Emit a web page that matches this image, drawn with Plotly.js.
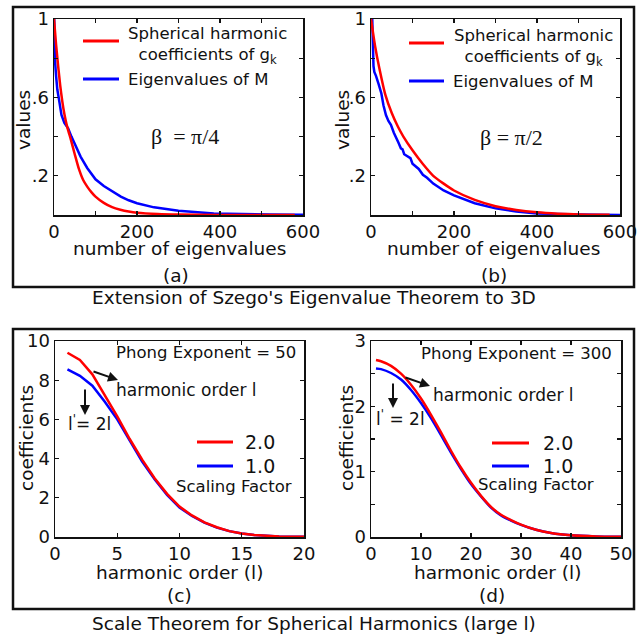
<!DOCTYPE html>
<html>
<head>
<meta charset="utf-8">
<script src="https://cdn.plot.ly/plotly-3.0.1.min.js"></script>
<style>
html,body{margin:0;padding:0;background:#fff;}
#chart{width:644px;height:637px;}
</style>
</head>
<body>
<div id="chart"></div>
<script>
// ---------- data ----------
// (a) beta = pi/4
const aRedX  = [0,5,10,15,20,25,30,35,40,50,60,70,80,90,100,120,140,160,180,200,250,300,400,500,580];
const aRedY  = [1.0,0.87,0.76,0.66,0.58,0.515,0.465,0.425,0.39,0.31,0.235,0.18,0.145,0.117,0.094,0.062,0.04,0.027,0.018,0.012,0.005,0.002,0.0005,0.0002,0.0001];
const aBlueX = [0.5,1.5,3,5,8,12,18,25,34,42,50,64,80,92,100,120,140,161,180,200,241,300,385,450,520,600];
const aBlueY = [1.0,0.85,0.77,0.71,0.64,0.59,0.51,0.47,0.442,0.40,0.36,0.298,0.24,0.205,0.182,0.148,0.12,0.094,0.075,0.06,0.039,0.022,0.008,0.004,0.002,0.001];
// (b) beta = pi/2
const bRedX  = [0,10,20,35,50,65,78,100,125,150,175,200,250,300,350,400,450,500,575];
const bRedY  = [1.0,0.86,0.75,0.61,0.52,0.45,0.40,0.33,0.26,0.20,0.16,0.125,0.077,0.045,0.026,0.014,0.007,0.003,0.001];
const bBlueX = [3,4,6,8,12,18,25,30,36,42,48,55,60,66,72,76,80,90,95,100,110,115,125,135,150,175,200,250,300,350,400,500,600];
const bBlueY = [1.0,0.86,0.76,0.73,0.71,0.67,0.62,0.56,0.51,0.48,0.46,0.42,0.40,0.37,0.34,0.335,0.31,0.295,0.29,0.262,0.245,0.235,0.205,0.19,0.16,0.125,0.1,0.06,0.034,0.018,0.008,0.002,0.0005];
// (c) Phong exponent 50
const cL     = [1,2,3,4,5,6,7,8,9,10,11,12,13,14,15,16,17,18,19,20];
const cRed   = [9.4,9.03,8.3,7.25,6.15,5.0,3.95,3.0,2.2,1.55,1.1,0.75,0.5,0.3,0.18,0.1,0.05,0.03,0.015,0.008];
const cBlue  = [8.55,8.22,7.72,6.9,6.0,4.9,3.85,2.95,2.15,1.5,1.07,0.73,0.48,0.3,0.18,0.1,0.05,0.03,0.015,0.008];
// (d) Phong exponent 300
const dL     = [1,2,4,6,8,10,12,14,16,18,20,22,24,26,28,30,33,36,40,45,50];
const dRed   = [2.71,2.69,2.62,2.50,2.33,2.12,1.87,1.60,1.32,1.06,0.83,0.63,0.46,0.34,0.26,0.19,0.11,0.06,0.025,0.008,0.003];
const dBlue  = [2.58,2.57,2.51,2.41,2.25,2.05,1.82,1.56,1.29,1.04,0.81,0.62,0.45,0.33,0.25,0.185,0.11,0.06,0.025,0.008,0.003];

const topYTicks = [0.2,0.6,1];
const topYText  = ['.2','.6','1'];
const topXTicks = [0,200,400,600];

// ---------- layout helpers ----------
const W=644, H=637;
const FONT='DejaVu Sans, Verdana, sans-serif';
const SERIF='Liberation Serif, Times New Roman, serif';
const INK='#111';
const RED='#ff0000', BLUE='#0000ff';
const fx = px => px/W;
const fy = py => 1 - py/H;

function axis(dom, range, extra){
  return Object.assign({
    domain:[fx(dom[0]), fx(dom[1])], range:range, showline:true, linecolor:INK, linewidth:1.5,
    mirror:'ticks', ticks:'inside', ticklen:4, tickwidth:1.2, tickcolor:INK,
    showgrid:false, zeroline:false, fixedrange:true, automargin:false,
    tickfont:{family:FONT,size:18,color:INK}
  }, extra||{});
}
function yaxis(dom, range, extra){
  const a = axis([0,0], range, extra);
  a.domain = [fy(dom[1]), fy(dom[0])];
  return a;
}
function txt(text, px, py, size, o){
  return Object.assign({text:text, xref:'paper', yref:'paper', x:fx(px), y:fy(py),
    showarrow:false, xanchor:'center', yanchor:'middle',
    font:{family:FONT,size:size,color:INK}}, o||{});
}
function arrow(px, py, ax, ay){
  return {text:'', xref:'paper', yref:'paper', x:fx(px), y:fy(py), ax:ax, ay:ay,
    showarrow:true, arrowhead:2, arrowsize:1, arrowwidth:2, arrowcolor:INK, standoff:0};
}
function seg(x0,x1,py,color){
  return {type:'line', xref:'paper', yref:'paper', x0:fx(x0), x1:fx(x1), y0:fy(py), y1:fy(py),
    line:{color:color,width:3}};
}
function box(x0,y0,x1,y1){
  return {type:'rect', xref:'paper', yref:'paper', x0:fx(x0), x1:fx(x1), y0:fy(y1), y1:fy(y0),
    line:{color:INK,width:2.5}, fillcolor:'rgba(0,0,0,0)'};
}

const ln = (c,w) => ({color:c, width:w||2.5});
const data = [
  {x:aBlueX, y:aBlueY, xaxis:'x',  yaxis:'y',  mode:'lines', line:ln(BLUE), hoverinfo:'skip'},
  {x:aRedX,  y:aRedY,  xaxis:'x',  yaxis:'y',  mode:'lines', line:Object.assign(ln(RED),{shape:'spline',smoothing:0.6}), hoverinfo:'skip'},
  {x:bBlueX, y:bBlueY, xaxis:'x2', yaxis:'y2', mode:'lines', line:ln(BLUE), hoverinfo:'skip'},
  {x:bRedX,  y:bRedY,  xaxis:'x2', yaxis:'y2', mode:'lines', line:Object.assign(ln(RED),{shape:'spline',smoothing:0.6}), hoverinfo:'skip'},
  {x:cL, y:cBlue, xaxis:'x3', yaxis:'y3', mode:'lines', line:ln(BLUE), hoverinfo:'skip'},
  {x:cL, y:cRed,  xaxis:'x3', yaxis:'y3', mode:'lines', line:ln(RED),  hoverinfo:'skip'},
  {x:dL, y:dBlue, xaxis:'x4', yaxis:'y4', mode:'lines', line:Object.assign(ln(BLUE),{shape:'spline',smoothing:0.5}), hoverinfo:'skip'},
  {x:dL, y:dRed,  xaxis:'x4', yaxis:'y4', mode:'lines', line:Object.assign(ln(RED),{shape:'spline',smoothing:0.5}),  hoverinfo:'skip'}
];

const topX = {tickmode:'array', tickvals:topXTicks, minor:{dtick:100, tick0:0, ticks:'inside', ticklen:4, tickcolor:INK, showgrid:false}};
const topY = {tickmode:'array', tickvals:topYTicks, ticktext:topYText, minor:{dtick:0.2, tick0:0, ticks:'inside', ticklen:4, tickcolor:INK, showgrid:false}};

const layout = {
  width:W, height:H, margin:{l:0,r:0,t:0,b:0}, showlegend:false,
  paper_bgcolor:'#fff', plot_bgcolor:'#fff',
  xaxis:  axis([54,303],[0,600], Object.assign({anchor:'y'}, topX)),
  yaxis:  yaxis([19,215],[0,1],  Object.assign({anchor:'x'}, topY)),
  xaxis2: axis([371,620],[0,600],Object.assign({anchor:'y2'}, topX)),
  yaxis2: yaxis([19,215],[0,1],  Object.assign({anchor:'x2'}, topY)),
  xaxis3: axis([55,304],[0,20], {anchor:'y3', dtick:5, tick0:0}),
  yaxis3: yaxis([341,537],[0,10],{anchor:'x3', dtick:2, tick0:0}),
  xaxis4: axis([371,621],[0,50], {anchor:'y4', dtick:10, tick0:0}),
  yaxis4: yaxis([341,537],[0,3], {anchor:'x4', dtick:1, tick0:0, minor:{dtick:0.5, tick0:0, ticks:'inside', ticklen:4, tickcolor:INK, showgrid:false}}),
  shapes:[
    box(13,7,634,287), box(13,329,634,609),
    seg(83,119,41,RED), seg(83,119,79,BLUE),
    seg(409,444,43,RED), seg(409,444,81,BLUE),
    seg(197,233,442,RED), seg(197,233,466,BLUE),
    seg(492,529,443,RED), seg(492,529,466,BLUE)
  ],
  annotations:[
    // top row
    txt('number of eigenvalues',179,248,18.5),
    txt('number of eigenvalues',494,248,18.5),
    txt('(a)',176,275,18.5), txt('(b)',494,275,18.5),
    txt('values',23,120,18.5,{textangle:-90}),
    txt('values',342,120,18.5,{textangle:-90}),
    txt("Extension of Szego's Eigenvalue Theorem to 3D",314,297,18.5),
    txt('Spherical harmonic<br>coefficients of g<sub>k</sub>',207,45,16.5),
    txt('Eigenvalues of M',198,79,16.5),
    txt('Spherical harmonic<br>coefficients of g<sub>k</sub>',533,47,16.5),
    txt('Eigenvalues of M',523,81,16.5),
    txt('β \u00a0= π/4',185,137,22,{font:{family:SERIF,size:22,color:INK}}),
    txt('β = π/2',511,138,22,{font:{family:SERIF,size:22,color:INK}}),
    // bottom row
    txt('harmonic order (l)',179,572,18.5), txt('harmonic order (l)',497,572,18.5),
    txt('(c)',180,595,18.5), txt('(d)',492,595,18.5),
    txt('coefficients',27,438,18.5,{textangle:-90}),
    txt('coefficients',347,438,18.5,{textangle:-90}),
    txt('Scale Theorem for Spherical Harmonics (large l)',314,623,18.5),
    txt('Phong Exponent = 50',298,352,16.5,{xanchor:'right'}),
    arrow(118,380,-26,-9),
    txt('harmonic order l',114,390,17,{xanchor:'left'}),
    arrow(85,415,0,-27),
    txt("l<sup>'</sup>= 2l",66,423,17,{xanchor:'left'}),
    txt('2.0',260,442,19), txt('1.0',260,466,19),
    txt('Scaling Factor',234,486,16.5),
    txt('Phong Exponent = 300',614,353,16.5,{xanchor:'right'}),
    arrow(430,386,-26,-9),
    txt('harmonic order l',431,395,17,{xanchor:'left'}),
    arrow(393,408,0,-26),
    txt("l<sup>'</sup> = 2l",374,418,17,{xanchor:'left'}),
    txt('2.0',558,443,19), txt('1.0',558,466,19),
    txt('Scaling Factor',536,484,16.5)
  ]
};

Plotly.newPlot('chart', data, layout, {staticPlot:true, displayModeBar:false});
</script>
</body>
</html>
